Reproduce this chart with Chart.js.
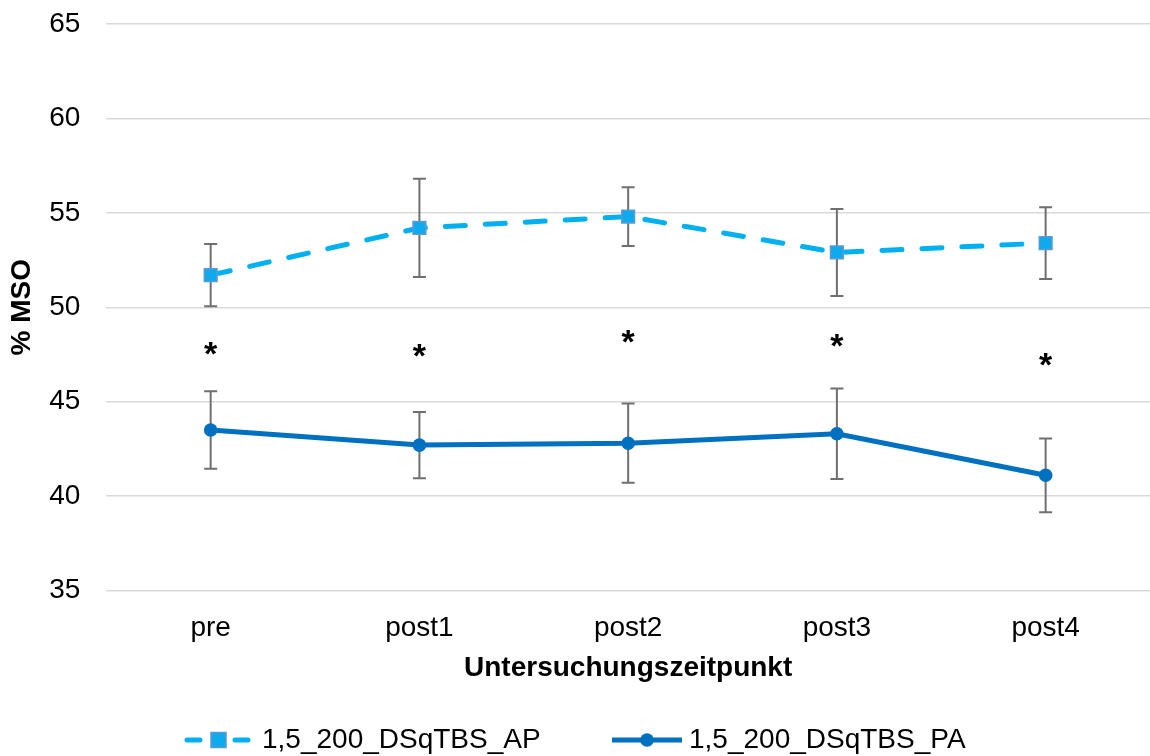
<!DOCTYPE html>
<html>
<head>
<meta charset="utf-8">
<script src="https://cdn.jsdelivr.net/npm/chart.js@4.4.1/dist/chart.umd.min.js"></script>
<style>
  html, body { margin: 0; padding: 0; background: #fff; overflow: hidden; }
  #wrap { width: 1150px; height: 756px; position: relative; }
  #c { display: block; }
</style>
</head>
<body>
<div id="wrap"><canvas id="c"></canvas></div>
<script>
// Measurement time points
const categories = ['pre', 'post1', 'post2', 'post3', 'post4'];

// Mean stimulation intensity (% MSO) and error (±) per condition
const apLabel = '1,5_200_DSqTBS_AP';
const apMean = [51.7, 54.2, 54.8, 52.9, 53.4];
const apErr  = [1.65, 2.6, 1.55, 2.3, 1.9];

const paLabel = '1,5_200_DSqTBS_PA';
const paMean = [43.5, 42.7, 42.8, 43.3, 41.1];
const paErr  = [2.05, 1.75, 2.1, 2.4, 1.95];

// Significance markers (*) placed between the two curves
const sigMarks = [47.7, 47.6, 48.3, 48.1, 47.1];

// Y axis range
const yMin = 35, yMax = 65, yStep = 5;

const FONT = "'Liberation Sans', Arial, Helvetica, sans-serif";

// Vertical error bars with caps, drawn behind the lines
const errorBars = {
  id: 'errorBars',
  beforeDatasetsDraw(chart) {
    const { ctx, scales: { x, y } } = chart;
    ctx.save();
    ctx.strokeStyle = '#6f6f6f';
    ctx.lineWidth = 2;
    chart.data.datasets.forEach(ds => {
      if (!ds.errors) return;
      ds.data.forEach((v, i) => {
        const px = x.getPixelForValue(i);
        const top = y.getPixelForValue(v + ds.errors[i]);
        const bot = y.getPixelForValue(v - ds.errors[i]);
        const cap = 6.5;
        ctx.beginPath();
        ctx.moveTo(px, top); ctx.lineTo(px, bot);
        ctx.moveTo(px - cap, top); ctx.lineTo(px + cap, top);
        ctx.moveTo(px - cap, bot); ctx.lineTo(px + cap, bot);
        ctx.stroke();
      });
    });
    ctx.restore();
  }
};

// Asterisks marking significant differences
const sigStars = {
  id: 'sigStars',
  afterDatasetsDraw(chart) {
    const { ctx, scales: { x, y } } = chart;
    ctx.save();
    ctx.fillStyle = '#000';
    ctx.font = 'bold 34px ' + FONT;
    ctx.textAlign = 'center';
    ctx.textBaseline = 'alphabetic';
    sigMarks.forEach((v, i) => {
      ctx.fillText('*', x.getPixelForValue(i), y.getPixelForValue(v) + 14);
    });
    ctx.restore();
  }
};

// Legend with line + marker samples
const lineLegend = {
  id: 'lineLegend',
  afterDraw(chart) {
    const { ctx } = chart;
    const ds = chart.data.datasets;
    const cy = 740;
    ctx.save();
    // AP entry: dashed line with square marker
    ctx.strokeStyle = ds[0].borderColor;
    ctx.lineWidth = 5;
    ctx.lineCap = 'round';
    ctx.beginPath();
    ctx.moveTo(187, cy); ctx.lineTo(200, cy);
    ctx.moveTo(235, cy); ctx.lineTo(248, cy);
    ctx.stroke();
    ctx.fillStyle = ds[0].pointBackgroundColor;
    ctx.strokeStyle = ds[0].pointBorderColor;
    ctx.lineWidth = 1.5;
    ctx.fillRect(211, cy - 7.5, 15, 15);
    ctx.strokeRect(211, cy - 7.5, 15, 15);
    // PA entry: solid line with circle marker
    ctx.strokeStyle = ds[1].borderColor;
    ctx.lineWidth = 5;
    ctx.lineCap = 'butt';
    ctx.beginPath();
    ctx.moveTo(612, cy); ctx.lineTo(682, cy);
    ctx.stroke();
    ctx.fillStyle = ds[1].pointBackgroundColor;
    ctx.beginPath();
    ctx.arc(647, cy, 6.8, 0, Math.PI * 2);
    ctx.fill();
    // Labels
    ctx.fillStyle = '#000';
    ctx.font = '28px ' + FONT;
    ctx.textAlign = 'left';
    ctx.textBaseline = 'middle';
    ctx.fillText(ds[0].label, 262, cy);
    ctx.fillText(ds[1].label, 689, cy);
    ctx.restore();
  }
};

new Chart(document.getElementById('c'), {
  type: 'line',
  data: {
    labels: categories,
    datasets: [
      {
        label: apLabel,
        data: apMean,
        errors: apErr,
        borderColor: '#00b0f0',
        borderWidth: 5,
        borderDash: [20, 20],
        borderCapStyle: 'round',
        tension: 0,
        pointStyle: 'rect',
        pointRadius: 9,
        pointBackgroundColor: '#0fa9ee',
        pointBorderColor: '#5b9bd5',
        pointBorderWidth: 1.5
      },
      {
        label: paLabel,
        data: paMean,
        errors: paErr,
        borderColor: '#0070c0',
        borderWidth: 5,
        tension: 0,
        pointStyle: 'circle',
        pointRadius: 6.8,
        pointBackgroundColor: '#0070c0',
        pointBorderColor: '#0070c0',
        pointBorderWidth: 0
      }
    ]
  },
  options: {
    responsive: true,
    maintainAspectRatio: false,
    animation: false,
    layout: { autoPadding: false, padding: { top: 24, left: 0, right: -3.3, bottom: 71 } },
    plugins: {
      legend: { display: false },
      tooltip: { enabled: false }
    },
    scales: {
      x: {
        offset: true,
        grid: { display: false },
        border: { display: false },
        ticks: { padding: 13, color: '#000', font: { size: 28, family: FONT } },
        title: {
          display: true,
          text: 'Untersuchungszeitpunkt',
          color: '#000',
          font: { size: 28, weight: 'bold', family: FONT },
          padding: { top: 0, bottom: 0 }
        },
        afterFit(s) {
          s.height = 94.5;
          s.paddingLeft = 0;
          s.paddingRight = -3.3;
        }
      },
      y: {
        min: yMin,
        max: yMax,
        ticks: { stepSize: yStep, padding: 26, color: '#000', font: { size: 28, family: FONT } },
        grid: { color: '#d9d9d9', lineWidth: 1.5, drawTicks: false },
        border: { display: false },
        title: {
          display: true,
          text: '% MSO',
          color: '#000',
          font: { size: 28, weight: 'bold', family: FONT },
          padding: { top: 5, bottom: 0 }
        },
        afterFit(s) {
          s.width = 106.3;
          s.paddingTop = 0;
          s.paddingBottom = 0;
        }
      }
    }
  },
  plugins: [errorBars, sigStars, lineLegend]
});
</script>
</body>
</html>
